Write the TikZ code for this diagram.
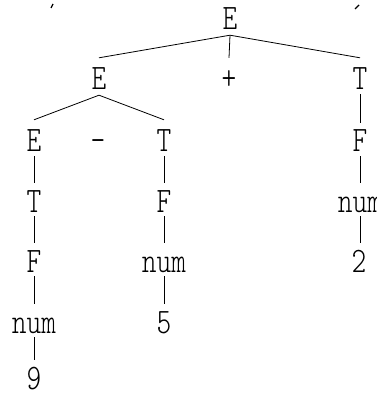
\documentclass[tikz,border=0pt]{standalone}
\usepackage{tikz}
\usetikzlibrary{positioning}
\tikzset{
	sym/.style={
		anchor=base,
		inner sep=0pt,
		text height=22pt,
		text depth=0pt,
		font=\fontsize{28pt}{30pt}\selectfont\ttfamily\fontseries{l}\selectfont
	},
	branch/.style={
		line width=0.8pt
	}
}
\newcommand{\tallsym}[1]{\scalebox{1}[1.28]{#1}}

\begin{document}
\begin{tikzpicture}[x=1pt, y=1pt]
		\useasboundingbox (0,0) rectangle (376,-395);
		\begin{scope}
		\clip (0,0) rectangle (376,-395);
		% levels of the tree, by baseline
		\node [sym] (e0) at (230,-30) {\tallsym{E}};
		\node [sym] (e1) at (99,-90) {\tallsym{E}};
		\node [sym] (plus) at (229,-90) {\tallsym{+}};
		\node [sym] (t1) at (360,-90) {\tallsym{T}};
		\node [sym] (e2) at (34,-152) {\tallsym{E}};
		\node [sym] (minus) at (98,-152) {\tallsym{-}};
		\node [sym] (t2) at (164,-152) {\tallsym{T}};
		\node [sym] (f2) at (360,-152) {\tallsym{F}};
		\node [sym] (t3) at (34,-212) {\tallsym{T}};
		\node [sym] (f3) at (164,-212) {\tallsym{F}};
		\node [sym] (num3) at (360,-212) {\tallsym{num}};
		\node [sym] (f4) at (34,-272) {\tallsym{F}};
		\node [sym] (num4) at (164,-272) {\tallsym{num}};
		\node [sym] (two) at (359,-272) {\tallsym{2}};
		\node [sym] (num5) at (34,-333) {\tallsym{num}};
		\node [sym] (five) at (164,-333) {\tallsym{5}};
		\node [sym] (nine) at (34,-389) {\tallsym{9}};
		
		\draw [branch] ([yshift=-5pt]e0.south) -- ([yshift=10pt]e1.north);
		\draw [branch] ([yshift=-5pt]e0.south) -- ([yshift=10pt]plus.north);
		\draw [branch] ([yshift=-5pt]e0.south) -- ([yshift=10pt]t1.north);
		\draw [branch] ([yshift=-5pt]e1.south) -- ([yshift=10pt]e2.north);
		\draw [branch] ([yshift=-5pt]e1.south) -- ([yshift=10pt]t2.north);
		\foreach \a/\b in {t1/f2, f2/num3, e2/t3, t3/f4, f4/num5, num5/nine, t2/f3, f3/num4, num4/five} {
			\draw [branch] ([yshift=-4pt]\a.south) -- ([yshift=7pt]\b.north);
		}
		\draw [branch] ([yshift=-4pt]num3.south) -- ([yshift=7pt]num3.south |- two.north);
		
		% stray ticks at the top edge
		\draw [line width=1.2pt] (51,-8) -- (53,-4);
		\draw [line width=1.4pt] (355,-9) -- (359,-5);
		\end{scope}
\end{tikzpicture}
\end{document}
